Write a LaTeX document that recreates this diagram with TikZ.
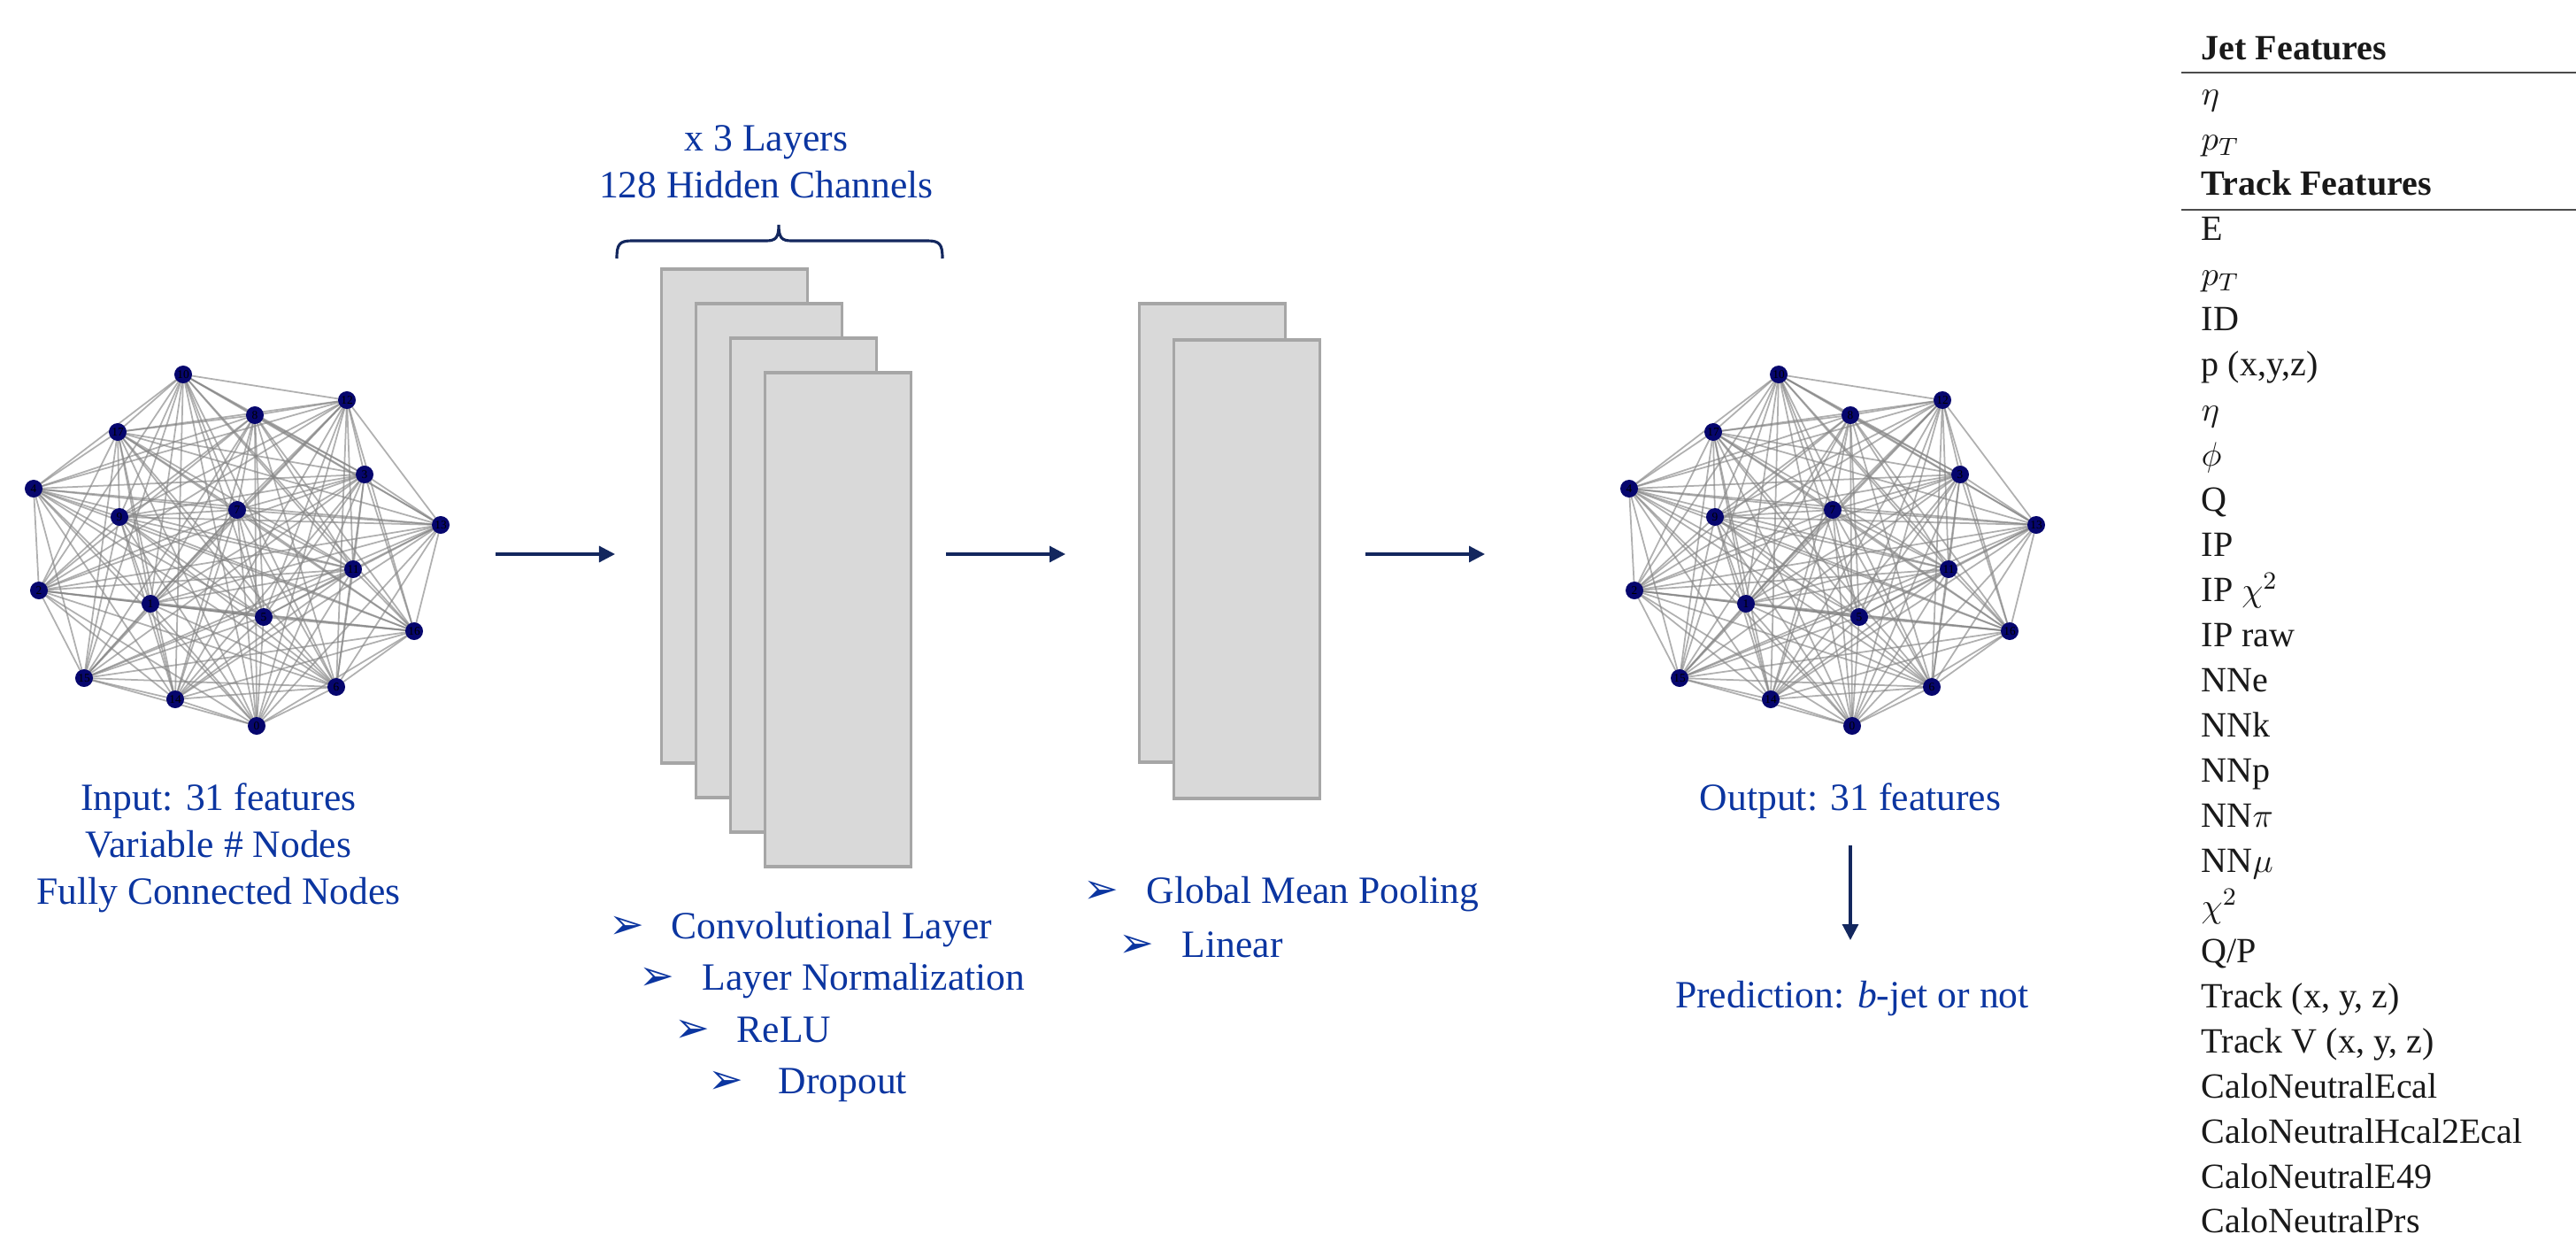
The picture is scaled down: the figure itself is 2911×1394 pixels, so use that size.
\documentclass[tikz,border=0pt]{standalone}
\usepackage{fontspec}
\setmainfont{Liberation Serif}
\newfontfamily\dingfont{DejaVu Sans}
\usetikzlibrary{arrows.meta,backgrounds}
\definecolor{gnnblue}{HTML}{0B35A0}
\definecolor{gnnnavy}{HTML}{13275E}
\definecolor{gnnnode}{HTML}{06066E}
\definecolor{gnnfill}{HTML}{D9D9D9}
\definecolor{gnnframe}{HTML}{A6A6A6}
\definecolor{gnnedge}{HTML}{858585}
\newcommand{\bul}{{\dingfont\fontsize{13.5}{13.5}\selectfont\char"27A2}}

\begin{document}
\begin{tikzpicture}[x=0.01cm,y=-0.01cm,
  lbl/.style={text=gnnblue,font=\fontsize{12.4}{15.1}\selectfont,inner sep=0pt,align=center},
  item/.style={text=gnnblue,font=\fontsize{12.4}{15.1}\selectfont,inner sep=0pt,anchor=base west},
  layer/.style={draw=gnnframe,fill=gnnfill,line width=1.1pt,minimum width=1.65cm,inner sep=0pt},
  gnode/.style={circle,fill=gnnnode,minimum size=0.2cm,inner sep=0pt,font=\fontsize{3.8}{4}\selectfont},
  edge/.style={gnnedge,line width=0.5pt,opacity=0.65},
  feat/.style={font=\fontsize{11.4}{13}\selectfont,inner sep=0pt,anchor=base west,text=black!90},
  tabrule/.style={draw=black!70,line width=0.55pt},
  ar/.style={-{Triangle[length=0.18cm,width=0.18cm]},gnnnavy,line width=0.9pt}]
  \useasboundingbox (0,0) rectangle (2911,1394);
  % input and output graphs
  \foreach \i/\x/\y in {0/290/820, 1/170/682, 2/44/667, 3/412/536, 4/38/552, 5/298/697,
      6/380/776, 7/268/576, 8/288/469, 9/135/584, 10/207/423, 11/399/643, 12/392/452,
      13/498/593, 14/198/790, 15/95/766, 16/468/713, 17/133/488} {
    \node[gnode] (l\i) at (\x,\y) {\i};
    \node[gnode] (r\i) at (\x+1803,\y) {\i};
  }
  \begin{scope}[on background layer]
    \foreach \a in {0,...,16} {
      \pgfmathtruncatemacro{\nxt}{\a+1}
      \foreach \b in {\nxt,...,17} {
        \draw[edge] (l\a.center) -- (l\b.center);
        \draw[edge] (r\a.center) -- (r\b.center);
      }
    }
  \end{scope}
  \node[lbl] (inlab) at (247,958) {Input: 31 features\\Variable \# Nodes\\Fully Connected Nodes};
  % convolution stack and pooling
  \foreach \k in {0,...,3}
    \node[layer,minimum height=5.57cm] (conv\k) at (830+39*\k,583+39*\k) {};
  \foreach \k in {0,1}
    \node[layer,minimum height=5.18cm] (pool\k) at (1370+39*\k,602+41*\k) {};
  \node[lbl] (layers) at (866,183) {x 3 Layers\\128 Hidden Channels};
  \draw[gnnnavy,line width=0.9pt] (697,292) .. controls (697,276) and (700,272) .. (714,272) -- (866,272)
    .. controls (877,272) and (880,268) .. (880,254) .. controls (880,268) and (883,272) .. (894,272)
    -- (1048,272) .. controls (1062,272) and (1065,276) .. (1065,292);
  \node[item] (b1) at (688,1060) {\makebox[0.70cm][l]{\bul}Convolutional Layer};
  \node[item] (b2) at (722,1118) {\makebox[0.71cm][l]{\bul}Layer Normalization};
  \node[item] (b3) at (762,1177) {\makebox[0.70cm][l]{\bul}ReLU};
  \node[item] (b4) at (800,1235) {\makebox[0.79cm][l]{\bul}Dropout};
  \node[item] (b5) at (1224,1020) {\makebox[0.71cm][l]{\bul}Global Mean Pooling};
  \node[item] (b6) at (1264,1081) {\makebox[0.71cm][l]{\bul}Linear};
  % flow arrows
  \coordinate (g1) at (560,626); \coordinate (c1) at (695,626);
  \coordinate (g2) at (1069,626); \coordinate (c2) at (1204,626);
  \coordinate (g3) at (1543,626); \coordinate (c3) at (1678,626);
  \draw[ar] (g1) -- (c1); \draw[ar] (g2) -- (c2); \draw[ar] (g3) -- (c3);
  \node[lbl,anchor=base] (outlab) at (2091,915) {Output: 31 features};
  \node[lbl,anchor=base] (pred) at (2093,1138) {Prediction: \textit{b}-jet or not};
  \draw[ar,shorten <=0.3cm,shorten >=0.45cm] (outlab.south) -- (outlab.south |- pred.north);
  % feature table
  \foreach \t [count=\i from 0] in {\textbf{Jet Features}, $\eta$, $p_T$, \textbf{Track Features}, E, $p_T$, ID,
      {p (x,y,z)}, $\eta$, $\phi$, Q, IP, IP $\chi^2$, IP raw, NNe, NNk, NNp, NN$\pi$, NN$\mu$, $\chi^2$, Q/P,
      {Track (x, y, z)}, {Track V (x, y, z)}, CaloNeutralEcal, CaloNeutralHcal2Ecal, CaloNeutralE49, CaloNeutralPrs}
    \node[feat] (f\i) at (2487,68+50.96*\i) {\t};
  \draw[tabrule] (2465,82) -- (2911,82);
  \draw[tabrule] (2465,237) -- (2911,237);
\end{tikzpicture}
\end{document}
